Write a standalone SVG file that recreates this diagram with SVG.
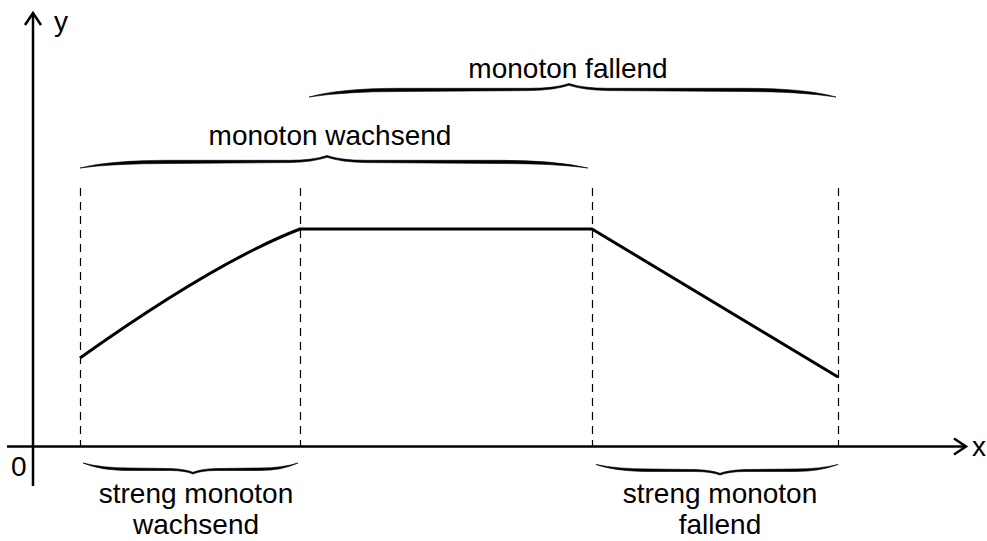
<svg xmlns="http://www.w3.org/2000/svg" width="987" height="541" viewBox="0 0 987 541">
  <style>
    .axis { stroke: #000; stroke-width: 2.5; fill: none; }
    .graph { stroke: #000; stroke-width: 3; fill: none; stroke-linejoin: round; }
    .guide { stroke: #000; stroke-width: 1.2; stroke-dasharray: 8 6; fill: none; }
    .brace { fill: #000; stroke: #000; stroke-width: 0.6; }
    text { font-family: "Liberation Sans", Arial, sans-serif; font-size: 28px; fill: #000; }
  </style>
  <rect width="987" height="541" fill="#fff"/>

  <!-- coordinate axes -->
  <g id="axes">
    <line class="axis" x1="33" y1="486" x2="33" y2="13"/>
    <polyline class="axis" points="25,25 33,13 41,25"/>
    <line class="axis" x1="7" y1="446.5" x2="966" y2="446.5"/>
    <polyline class="axis" points="954,438.5 966,446.5 954,454.5"/>
    <text x="54" y="31">y</text>
    <text x="972" y="456">x</text>
    <text x="11" y="476">0</text>
  </g>

  <!-- vertical guide lines at the interval borders -->
  <g id="guides">
    <line class="guide" x1="80.5" y1="188" x2="80.5" y2="446"/>
    <line class="guide" x1="300.5" y1="188" x2="300.5" y2="446"/>
    <line class="guide" x1="592.5" y1="188" x2="592.5" y2="446"/>
    <line class="guide" x1="838.5" y1="188" x2="838.5" y2="446"/>
  </g>

  <!-- function graph -->
  <g id="graph">
    <path class="graph" d="M80,358 Q215,262 300,229 L592,229 L838,377"/>
  </g>

  <!-- interval braces and labels -->
  <g id="monoton-fallend">
    <path class="brace" d="M309,97 Q340,88.3 400,88.3 L530,88.3 Q555,88.3 569,83.5 Q583,88.3 608,88.3 L745,88.3 Q805,88.3 836,97 Q800,91.5 745,91.5 L608,90.6 Q583,90 569,85.3 Q555,90 530,90.6 L400,91.5 Q345,91.5 309,97 Z"/>
    <text x="568" y="78" text-anchor="middle">monoton fallend</text>
  </g>

  <g id="monoton-wachsend">
    <path class="brace" d="M80,168 Q110,160.3 170,160.3 L290,160.3 Q313,160.3 327,155.5 Q341,160.3 365,160.3 L500,160.3 Q555,160.3 588,168 Q555,163.5 500,163.5 L365,162.6 Q341,162 327,157.3 Q313,162 290,162.6 L170,163.5 Q112,163.5 80,168 Z"/>
    <text x="330" y="145" text-anchor="middle">monoton wachsend</text>
  </g>

  <g id="streng-monoton-wachsend">
    <path class="brace" d="M83,463 Q100,470.5 130,470.5 L170,470.5 Q185,470.5 193,474 Q201,470.5 216,470.5 L260,470.5 Q282,470.5 298,463 Q282,468 260,468 L216,468.5 Q201,469 193,472.3 Q185,469 170,468.5 L130,468 Q102,468 83,463 Z"/>
    <text x="196" y="503" text-anchor="middle">streng monoton</text>
    <text x="196" y="534" text-anchor="middle">wachsend</text>
  </g>

  <g id="streng-monoton-fallend">
    <path class="brace" d="M596,464.5 Q615,471.5 650,471.5 L695,471.5 Q711,471.5 720,475 Q729,471.5 745,471.5 L795,471.5 Q820,471.5 838,464.5 Q820,469 795,469 L745,469.5 Q729,470 720,473.3 Q711,470 695,469.5 L650,469 Q617,469 596,464.5 Z"/>
    <text x="720" y="503" text-anchor="middle">streng monoton</text>
    <text x="720" y="534" text-anchor="middle">fallend</text>
  </g>
</svg>
